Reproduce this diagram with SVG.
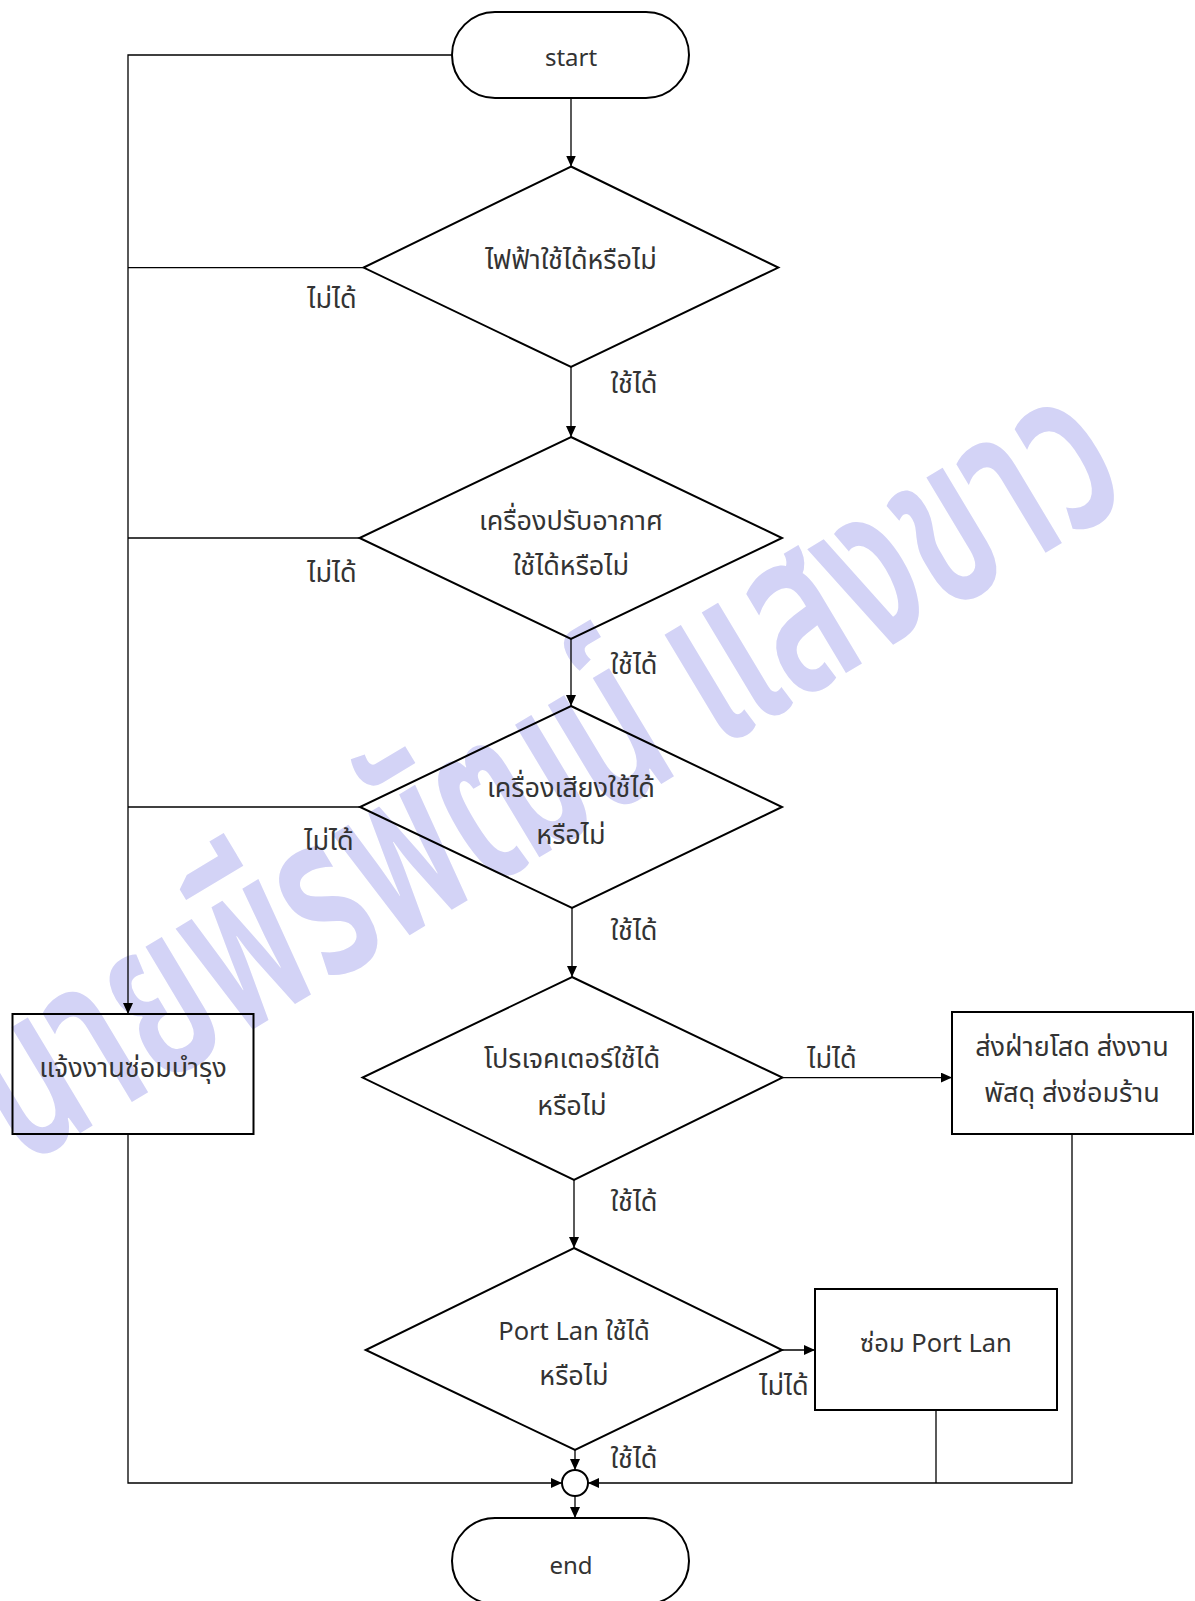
<svg xmlns="http://www.w3.org/2000/svg" width="1195" height="1601" viewBox="0 0 1195 1601">
  <defs>
    <marker id="arrow" markerUnits="userSpaceOnUse" markerWidth="11" markerHeight="10" refX="11" refY="5" orient="auto">
      <path d="M0,0 L11,5 L0,10 z" fill="#000"/>
    </marker>
    <style>
      .shape { fill: none; stroke: #000; stroke-width: 2; }
      .line { fill: none; stroke: #000; stroke-width: 1.3; }
      .flow { fill: none; stroke: #000; stroke-width: 1.3; marker-end: url(#arrow); }
      text { font-family: "Noto Sans Thai", "Noto Sans", "DejaVu Sans", sans-serif; font-size: 27px; fill: #333; }
      .lat { font-size: 24px; }
      .mix { font-size: 25.5px; }
      .c { text-anchor: middle; }
      .wm { font-size: 230px; font-weight: 600; fill: #d3d3f6; }
    </style>
  </defs>
  <rect width="1195" height="1601" fill="#fff"/>

  <!-- background name mark -->
  <text class="wm" transform="translate(22,1168) rotate(-31)" textLength="1300" lengthAdjust="spacingAndGlyphs">นายพีรพัฒน์ แสงขาว</text>

  <!-- connectors -->
  <g id="connectors">
    <path class="flow" d="M452,55 H128 V1014"/>
    <path class="line" d="M363.6,267.6 H128"/>
    <path class="line" d="M359.5,538 H128"/>
    <path class="line" d="M360,807 H128"/>
    <path class="flow" d="M571,98 V166.5"/>
    <path class="flow" d="M571,367 V437"/>
    <path class="flow" d="M571,639 V706"/>
    <path class="flow" d="M572,908 V977"/>
    <path class="flow" d="M574,1180 V1248"/>
    <path class="flow" d="M782.4,1077.6 H952"/>
    <path class="flow" d="M782,1350 H815"/>
    <path class="flow" d="M575,1450 V1470"/>
    <path class="flow" d="M575,1496 V1518"/>
    <path class="flow" d="M128,1134 V1483 H562"/>
    <path class="flow" d="M1072,1134 V1483 H588"/>
    <path class="line" d="M936,1410 V1483"/>
    <text x="332" y="308" class="c">ไม่ได้</text>
    <text x="332" y="582" class="c">ไม่ได้</text>
    <text x="329" y="850" class="c">ไม่ได้</text>
    <text x="832" y="1068" class="c">ไม่ได้</text>
    <text x="784" y="1395" class="c">ไม่ได้</text>
    <text x="634" y="393" class="c">ใช้ได้</text>
    <text x="634" y="674" class="c">ใช้ได้</text>
    <text x="634" y="940" class="c">ใช้ได้</text>
    <text x="634" y="1211" class="c">ใช้ได้</text>
    <text x="634" y="1468" class="c">ใช้ได้</text>
  </g>

  <g id="start">
    <rect class="shape" x="452" y="12" width="237" height="86" rx="43" ry="43"/>
    <text x="571" y="66" class="c lat">start</text>
  </g>

  <g id="check-power">
    <polygon class="shape" points="571,166.5 778.3,267.6 571,367 363.6,267.6"/>
    <text x="571" y="269" class="c">ไฟฟ้าใช้ได้หรือไม่</text>
  </g>

  <g id="check-aircon">
    <polygon class="shape" points="571,437 782,538 571,639 359.5,538"/>
    <text x="571" y="530" class="c">เครื่องปรับอากาศ</text>
    <text x="571" y="575" class="c">ใช้ได้หรือไม่</text>
  </g>

  <g id="check-sound">
    <polygon class="shape" points="571,706 782,807 572,908 360,807"/>
    <text x="571" y="797" class="c">เครื่องเสียงใช้ได้</text>
    <text x="571" y="844" class="c">หรือไม่</text>
  </g>

  <g id="check-projector">
    <polygon class="shape" points="572,977 782.4,1077.6 574,1180 362.6,1077.6"/>
    <text x="572" y="1068" class="c">โปรเจคเตอร์ใช้ได้</text>
    <text x="572" y="1115" class="c">หรือไม่</text>
  </g>

  <g id="check-portlan">
    <polygon class="shape" points="574,1248 782,1350 575,1450 365.7,1350"/>
    <text x="574" y="1340" class="c mix">Port Lan ใช้ได้</text>
    <text x="574" y="1385" class="c">หรือไม่</text>
  </g>

  <g id="report-repair">
    <rect class="shape" x="12.5" y="1014" width="241" height="120"/>
    <text x="133" y="1077" class="c">แจ้งงานซ่อมบำรุง</text>
  </g>

  <g id="send-out">
    <rect class="shape" x="952" y="1012" width="241" height="122"/>
    <text x="1072" y="1056" class="c">ส่งฝ่ายโสด ส่งงาน</text>
    <text x="1072" y="1102" class="c">พัสดุ ส่งซ่อมร้าน</text>
  </g>

  <g id="fix-portlan">
    <rect class="shape" x="815" y="1289" width="242" height="121"/>
    <text x="936" y="1352" class="c mix">ซ่อม Port Lan</text>
  </g>

  <g id="merge">
    <circle class="shape" cx="575" cy="1483" r="13"/>
  </g>

  <g id="end">
    <rect class="shape" x="452" y="1518" width="237" height="86" rx="43" ry="43"/>
    <text x="571" y="1574" class="c lat">end</text>
  </g>
</svg>
